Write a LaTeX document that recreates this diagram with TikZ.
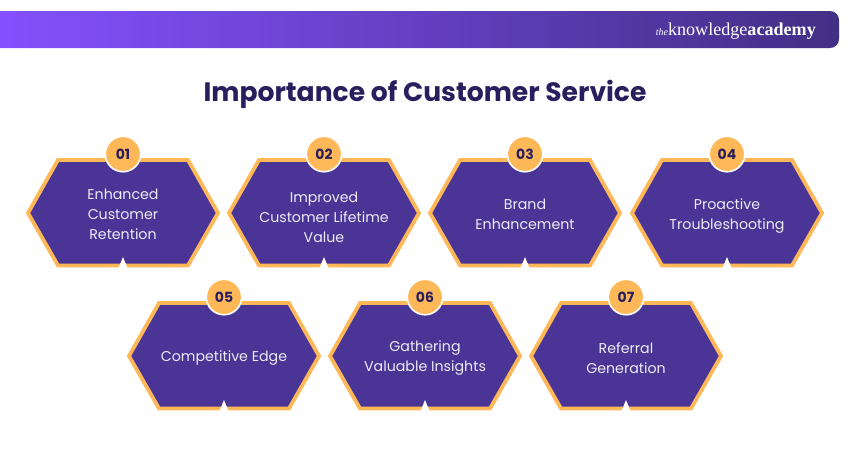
\documentclass[tikz,border=0pt]{standalone}
\usepackage{fontspec}
\setmainfont{Poppins}
\newfontfamily\logofont{Liberation Serif}
\definecolor{hexfill}{HTML}{4A3597}
\definecolor{hexedge}{HTML}{FFB858}
\definecolor{inkdark}{HTML}{2A1F5E}
\definecolor{bannerleft}{HTML}{8650FF}
\definecolor{bannermid}{HTML}{6440C2}
\definecolor{bannerright}{HTML}{422F85}
\tikzset{
  hexshape/.style={draw=hexedge,fill=hexfill,line width=3.8pt,miter limit=4},
  hexlabel/.style={text=white!90!hexfill,align=center,font=\fontsize{14.2}{20}\selectfont,inner sep=0pt},
  numbadge/.style={circle,draw=white,line width=1.6pt,fill=hexedge,minimum size=35.5pt,inner sep=0pt,text=inkdark,font=\fontsize{14}{16}\selectfont\bfseries},
  notchmark/.style={fill=white,draw=none},
}
\newcommand{\hexitem}[6]{%
  \begin{scope}[shift={(#1,#2)}]
    \draw[hexshape] (-95,0) -- (-65,-53) -- (65,-53) -- (95,0) -- (65,52.5) -- (-65,52.5) -- cycle;
    \fill[notchmark] (-4.5,55) -- (0,44) -- (4.5,55) -- cycle;
    \node[hexlabel] (label#3) at (#5,#6) {#4};
  \end{scope}
}
\begin{document}
\begin{tikzpicture}[x=1pt,y=-1pt]
\useasboundingbox (0,0) rectangle (850,450);
\fill[white] (0,0) rectangle (850,450);
\shade[left color=bannerleft,middle color=bannermid,right color=bannerright,rounded corners=9pt]
  (-12,11) rectangle (839,48);
\node[inner sep=0pt,anchor=base east,text=white] (logo) at (816,35) {\logofont\fontsize{10}{10}\selectfont\itshape the\fontsize{18.1}{18}\selectfont\upshape knowledge\bfseries academy};
\node[inner sep=0pt,text=inkdark,font=\fontsize{26.6}{30}\selectfont\bfseries] (title) at (425,94) {Importance of Customer Service};
\hexitem{123}{213}{a}{Enhanced\\Customer\\Retention}{0}{1}
\hexitem{324}{213}{b}{Improved\\Customer Lifetime\\Value}{0}{4}
\hexitem{525}{213}{c}{Brand\\Enhancement}{0}{1}
\hexitem{727}{213}{d}{Proactive\\Troubleshooting}{0}{3}
\hexitem{224}{356}{e}{Competitive Edge}{0}{2}
\hexitem{425}{356}{f}{Gathering\\Valuable Insights}{0}{2}
\hexitem{626}{356}{g}{Referral\\Generation}{0}{2}
\node[numbadge] (n1) at (123,154) {01};
\node[numbadge] (n2) at (324,154) {02};
\node[numbadge] (n3) at (525,154) {03};
\node[numbadge] (n4) at (727,154) {04};
\node[numbadge] (n5) at (224,297) {05};
\node[numbadge] (n6) at (425,297) {06};
\node[numbadge] (n7) at (626,297) {07};
\end{tikzpicture}
\end{document}
